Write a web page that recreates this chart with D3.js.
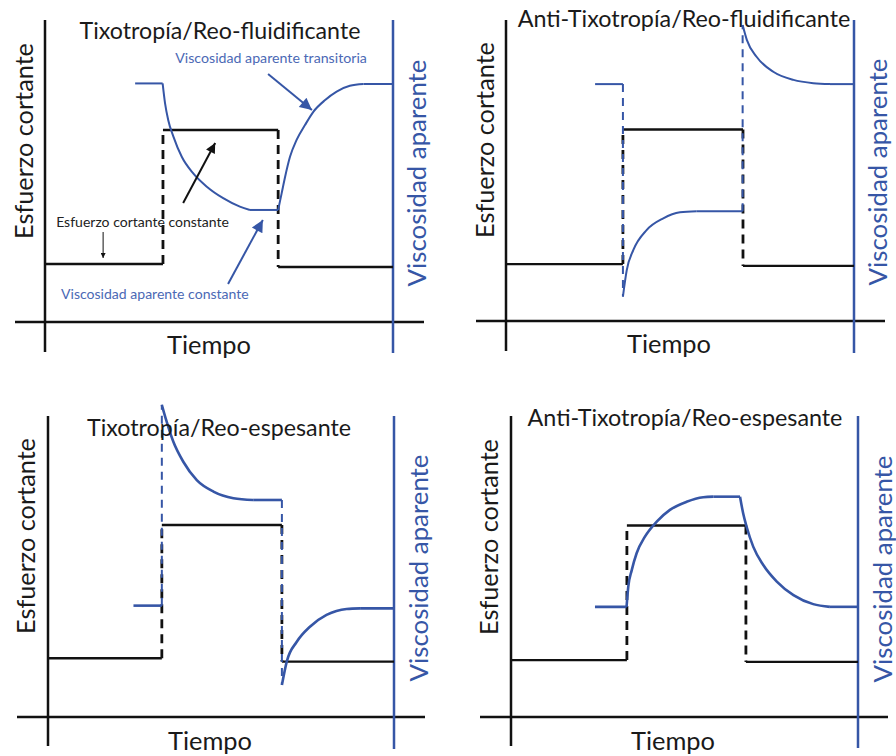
<!DOCTYPE html>
<html>
<head>
<meta charset="utf-8">
<script src="https://cdn.jsdelivr.net/npm/d3@7"></script>
<style>
  body { margin: 0; background: #fff; }
  svg { display: block; font-family: Lato, "Open Sans", sans-serif; }
</style>
</head>
<body>
<svg id="chart" width="896" height="756"></svg>
<script>
// texts
const titles = ["Tixotropía/Reo-fluidificante", "Anti-Tixotropía/Reo-fluidificante",
                "Tixotropía/Reo-espesante", "Anti-Tixotropía/Reo-espesante"];
const yLabel = "Esfuerzo cortante";
const y2Label = "Viscosidad aparente";
const xLabel = "Tiempo";

// shear stress: step times and the three levels (time and values on a 0-100 scale)
const stepTimes = [[33.9, 67.0], [33.6, 68.1], [32.9, 67.6], [33.4, 67.7]];
const stressLevels = [[19.2, 63.6, 18.2], [18.9, 63.6, 18.3], [19.5, 63.8, 18.4], [18.9, 63.6, 18.3]];

// apparent viscosity, one list of segments per panel (a jump between segments is drawn dashed)
const visc1 = [[
  [25.9, 79.0], [33.8, 79.0], [34.5, 72.4], [35.4, 66.9], [36.9, 61.4], [39.3, 54.7], [42.6, 49.2],
  [46.5, 44.8], [51.2, 41.0], [56.0, 38.2], [58.9, 37.1], [67.0, 37.1], [68.0, 42.6], [69.0, 48.1],
  [70.4, 54.7], [72.3, 60.3], [74.7, 65.2], [77.1, 69.6], [80.5, 73.5], [83.8, 76.3], [87.6, 78.2],
  [91.5, 78.8], [100, 78.8]
]];
const visc2 = [
  [[25.6, 78.7], [33.6, 78.7]],
  [[33.6, 8.1], [34.7, 16.9], [36.6, 23.6], [40.4, 30.2], [45.2, 34.1], [50.0, 36.1], [54.8, 36.5], [68.0, 36.5]],
  [[68.0, 98.3], [69.2, 93.4], [72.0, 87.8], [76.8, 82.8], [82.6, 80.1], [88.3, 79.0], [93.1, 78.7], [100, 78.7]]
];
const visc3 = [
  [[24.7, 37.0], [32.9, 37.0]],
  [[32.9, 103.7], [34.3, 98.1], [36.2, 91.5], [39.1, 84.8], [43.0, 78.7], [47.8, 74.9], [53.6, 72.7], [59.3, 72.1], [67.6, 72.1]],
  [[67.6, 10.6], [69.0, 18.4], [71.9, 25.0], [75.7, 30.0], [80.5, 33.9], [86.3, 35.9], [90.2, 36.1], [100, 36.1]]
];
const visc4 = [[
  [24.2, 36.6], [33.3, 36.6], [33.8, 43.3], [34.8, 48.8], [36.2, 54.4], [38.6, 59.9], [42.0, 64.9],
  [45.8, 68.8], [50.6, 71.5], [55.4, 73.0], [58.3, 73.2], [66.0, 73.2], [66.9, 67.7], [67.9, 63.2],
  [69.8, 56.6], [72.7, 50.5], [76.6, 45.0], [81.4, 40.5], [87.1, 37.5], [91.9, 36.6], [100, 36.6]
]];
const viscosity = [visc1, visc2, visc3, visc4];

// annotations of the first panel
const noteTexts = [
  { text: "Viscosidad aparente transitoria", t: 37.4, v: 85.6, kind: "blue" },
  { text: "Esfuerzo cortante constante", t: 3.2, v: 31.6, kind: "black" },
  { text: "Viscosidad aparente constante", t: 4.6, v: 7.7, kind: "blue" }
];
const noteArrows = [
  { from: [64.1, 82.1], to: [76.7, 70.2], kind: "blue" },
  { from: [16.7, 29.8], to: [16.7, 21.2], kind: "small" },
  { from: [39.7, 39.4], to: [48.9, 59.3], kind: "black" },
  { from: [52.6, 12.6], to: [62.6, 33.8], kind: "blue" }
];

const BLUE = "#3656a6";
const BLUE_TXT = "#4b69b5";
const BLACK = "#111";

// panel geometry
const panels = [
  { left: 45, right: 393, base: 322, top: 20, hx0: 15, hx1: 424, bottom: 352, rb: 353,
    title: [220, 39, 281], yl: [33, 141], y2l: [426, 173], xl: [209, 354], vw: 2 },
  { left: 506, right: 854, base: 321, top: 20, hx0: 476, hx1: 885, bottom: 351, rb: 353,
    title: [684, 27, 333], yl: [494, 140], y2l: [887, 172], xl: [669, 353], vw: 2 },
  { left: 48, right: 394, base: 717, top: 416, hx0: 17, hx1: 425, bottom: 746, rb: 749,
    title: [219, 436, 264], yl: [35, 536], y2l: [428, 568], xl: [210, 750], vw: 2.6 },
  { left: 511, right: 858, base: 717, top: 416, hx0: 480, hx1: 888, bottom: 746, rb: 748,
    title: [685, 426, 315], yl: [498, 537], y2l: [892, 569], xl: [673, 750], vw: 2.6 }
];

const svg = d3.select("#chart");
const defs = svg.append("defs");
[["black", BLACK, 14, 10], ["blue", BLUE, 16, 12], ["small", BLACK, 6, 5]].forEach(([id, c, w, h]) => {
  defs.append("marker").attr("id", "arr-" + id)
    .attr("viewBox", "0 0 10 10").attr("refX", 10).attr("refY", 5)
    .attr("markerUnits", "userSpaceOnUse").attr("markerWidth", w).attr("markerHeight", h)
    .attr("orient", "auto")
    .append("path").attr("d", "M0,0L10,5L0,10Z").attr("fill", c);
});

// scale text so it spans the given length
function fit(sel, target) {
  const len = sel.node().getComputedTextLength();
  const fs = parseFloat(sel.attr("font-size"));
  sel.attr("font-size", fs * target / len);
}

// cut a segment where it goes from flat to curved (and back), so corners stay sharp
function pieces(seg) {
  const out = [];
  let cur = [seg[0]];
  for (let j = 1; j < seg.length; j++) {
    cur.push(seg[j]);
    const flatPrev = seg[j][1] === seg[j - 1][1];
    const flatNext = j + 1 < seg.length ? seg[j + 1][1] === seg[j][1] : flatPrev;
    if (flatPrev !== flatNext) { out.push(cur); cur = [seg[j]]; }
  }
  if (cur.length > 1) out.push(cur);
  return out;
}

panels.forEach((p, i) => {
  const g = svg.append("g");
  const x = d3.scaleLinear().domain([0, 100]).range([p.left, p.right]);
  const y = d3.scaleLinear().domain([0, 100]).range([p.base, p.top]);

  // axes
  g.append("line").attr("x1", p.hx0).attr("x2", p.hx1).attr("y1", p.base).attr("y2", p.base)
    .attr("stroke", BLACK).attr("stroke-width", 2.5);
  g.append("line").attr("x1", p.left).attr("x2", p.left).attr("y1", p.top).attr("y2", p.bottom)
    .attr("stroke", BLACK).attr("stroke-width", 2.5);
  g.append("line").attr("x1", p.right).attr("x2", p.right).attr("y1", p.top).attr("y2", p.rb)
    .attr("stroke", BLUE).attr("stroke-width", 2.5);

  // shear stress
  const steps = stepTimes[i], lev = stressLevels[i];
  const bounds = [0, ...steps, 100];
  lev.forEach((v, k) => {
    g.append("line").attr("x1", x(bounds[k])).attr("x2", x(bounds[k + 1]))
      .attr("y1", y(v)).attr("y2", y(v))
      .attr("stroke", BLACK).attr("stroke-width", 2.4);
  });
  steps.forEach((t, k) => {
    g.append("line").attr("x1", x(t)).attr("x2", x(t))
      .attr("y1", y(lev[k])).attr("y2", y(lev[k + 1]))
      .attr("stroke", BLACK).attr("stroke-width", 2.8).attr("stroke-dasharray", "9,6");
  });

  // apparent viscosity
  const segs = viscosity[i];
  for (let k = 0; k < segs.length - 1; k++) {
    const a = segs[k][segs[k].length - 1], b = segs[k + 1][0];
    g.append("line").attr("x1", x(a[0])).attr("x2", x(b[0]))
      .attr("y1", y(a[1])).attr("y2", y(b[1]))
      .attr("stroke", BLUE).attr("stroke-width", 2).attr("stroke-dasharray", "8,6");
  }
  const line = d3.line().x(d => x(d[0])).y(d => y(d[1])).curve(d3.curveMonotoneX);
  g.selectAll("path.visc").data(segs.flatMap(pieces)).join("path").attr("class", "visc")
    .attr("d", line).attr("fill", "none").attr("stroke", BLUE).attr("stroke-width", p.vw)
    .attr("stroke-linejoin", "round");

  // labels
  const tt = g.append("text").attr("x", p.title[0]).attr("y", p.title[1])
    .attr("text-anchor", "middle").attr("font-size", 20).attr("fill", "#1a1a1a").text(titles[i]);
  fit(tt, p.title[2]);
  const yt = g.append("text").attr("transform", `translate(${p.yl[0]},${p.yl[1]}) rotate(-90)`)
    .attr("text-anchor", "middle").attr("font-size", 23).attr("fill", "#1a1a1a").text(yLabel);
  fit(yt, 196);
  const y2t = g.append("text").attr("transform", `translate(${p.y2l[0]},${p.y2l[1]}) rotate(-90)`)
    .attr("text-anchor", "middle").attr("font-size", 23).attr("fill", BLUE).text(y2Label);
  fit(y2t, 227);
  const xt = g.append("text").attr("x", p.xl[0]).attr("y", p.xl[1])
    .attr("text-anchor", "middle").attr("font-size", 23).attr("fill", "#1a1a1a").text(xLabel);
  fit(xt, 84);

  if (i === 0) {
    const widths = [192, 173, 188];
    noteTexts.forEach((n, k) => {
      const t = g.append("text").attr("x", x(n.t)).attr("y", y(n.v))
        .attr("font-size", 12).attr("fill", n.kind === "blue" ? BLUE_TXT : "#222").text(n.text);
      fit(t, widths[k]);
    });
    noteArrows.forEach(a => {
      g.append("line").attr("x1", x(a.from[0])).attr("y1", y(a.from[1]))
        .attr("x2", x(a.to[0])).attr("y2", y(a.to[1]))
        .attr("stroke", a.kind === "blue" ? BLUE : BLACK)
        .attr("stroke-width", a.kind === "small" ? 1 : 2)
        .attr("marker-end", `url(#arr-${a.kind})`);
    });
  }
});
</script>
</body>
</html>
